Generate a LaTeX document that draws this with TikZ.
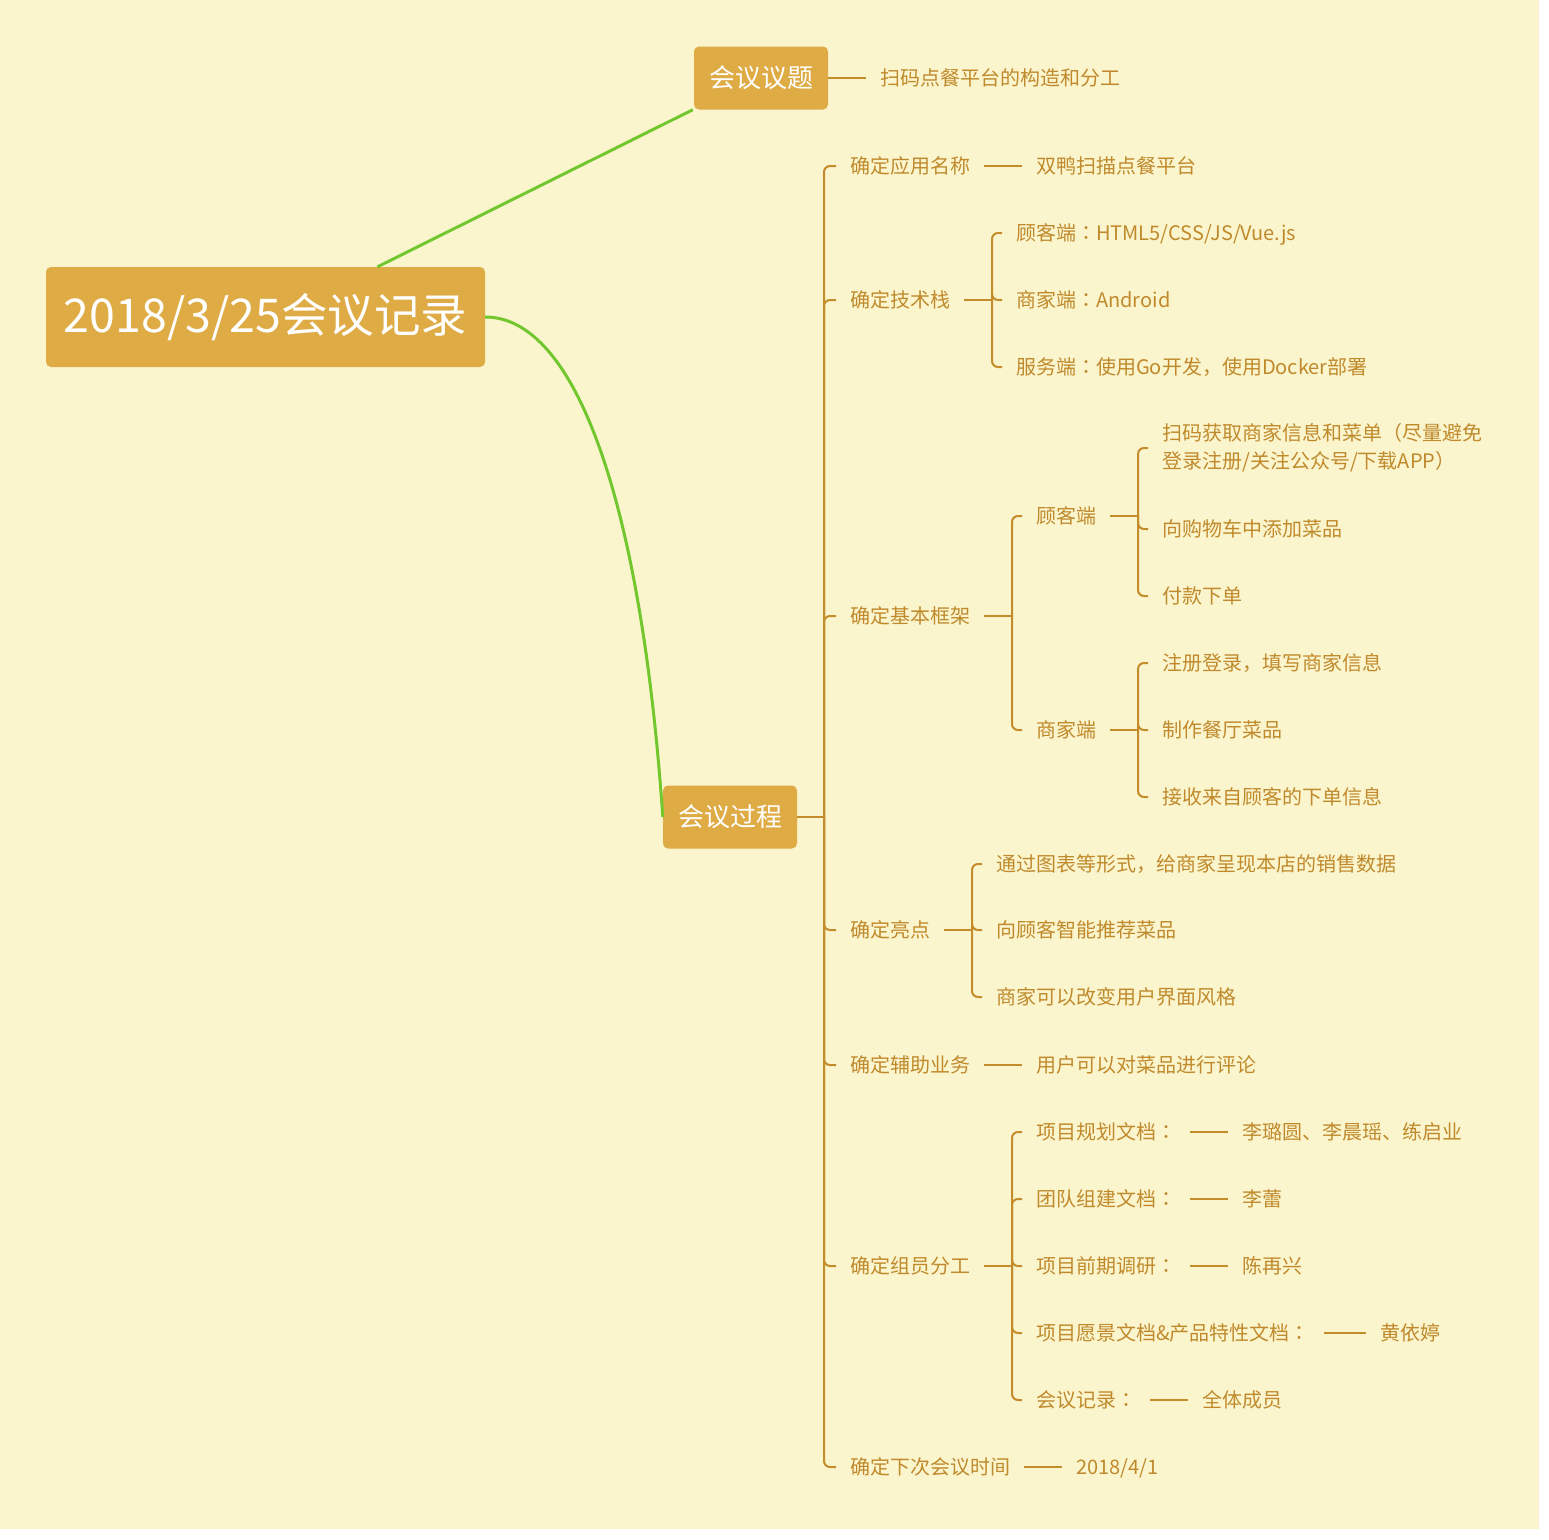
\documentclass[tikz,border=0pt]{standalone}
\usepackage{fontspec}
\setmainfont{Noto Sans CJK SC}
\newfontfamily\jpf{Noto Sans CJK JP}
\newcommand\cco{{\jpf ：}}
\definecolor{bgc}{HTML}{FBF5CE}
\definecolor{boxc}{HTML}{DFAB45}
\definecolor{txtc}{HTML}{C08A2C}
\definecolor{linec}{HTML}{C48C2A}
\definecolor{grn}{HTML}{72C62E}
\tikzset{
  lbl/.style={anchor=west, inner xsep=14pt, inner ysep=0pt, text=txtc,
    font=\fontsize{20pt}{28pt}\selectfont, text height=17.6pt, text depth=2.4pt},
  lbltwo/.style={anchor=west, inner xsep=14pt, inner ysep=0pt, text=txtc, align=left,
    font=\fontsize{20pt}{28pt}\selectfont},
  topbox/.style={fill=boxc, rounded corners=5pt, text=white, inner sep=0pt,
    font=\fontsize{26pt}{30pt}\selectfont, minimum width=134pt, minimum height=63pt},
  rootbox/.style={fill=boxc, rounded corners=5pt, text=white, inner sep=0pt,
    font=\fontsize{46.5pt}{50pt}\selectfont, minimum width=439pt, minimum height=100pt},
  br/.style={draw=linec, line width=2pt},
  brc/.style={draw=linec, line width=2pt, rounded corners=6pt},
  gl/.style={draw=grn, line width=3pt},
}
\begin{document}
\begin{tikzpicture}[x=1pt,y=-1pt]
\useasboundingbox (0,0) rectangle (1549,1539);
\fill[white] (0,0) rectangle (1549,1539);
\fill[bgc] (0,0) rectangle (1539,1529);

% main boxes
\node[rootbox] (root) at (265.5,317) {2018/3/25会议记录};
\node[topbox] (yt) at (761,78) {会议议题};
\node[topbox] (gc) at (730,817) {会议过程};

% green connectors
\draw[gl] ([xshift=112pt]root.north) -- ([xshift=-1pt]yt.south west);
\draw[gl] (root.east) .. controls +(90,0) and +(-22,-318) .. (gc.west);

% topic
\node[lbl] (ytc) at (866,78) {扫码点餐平台的构造和分工};
\draw[br] (yt.east) -- (ytc.west);

% level 1
\node[lbl] (t1) at (836,166) {确定应用名称};
\node[lbl] (t2) at (836,300) {确定技术栈};
\node[lbl] (t3) at (836,616) {确定基本框架};
\node[lbl] (t4) at (836,930) {确定亮点};
\node[lbl] (t5) at (836,1065) {确定辅助业务};
\node[lbl] (t6) at (836,1266) {确定组员分工};
\node[lbl] (t7) at (836,1467) {确定下次会议时间};
\coordinate (b0) at (824,817);
\draw[br] (gc.east) -- (b0);
\foreach \c in {t1,t2,t3,t4,t5,t6,t7} \draw[brc] (b0) |- (\c.west);

% t1
\node[lbl] (t1a) at (1022,166) {双鸭扫描点餐平台};
\draw[br] (t1.east) -- (t1a.west);

% t2
\node[lbl] (t2a) at (1002,233) {顾客端\cco HTML5/CSS/JS/Vue.js};
\node[lbl] (t2b) at (1002,300) {商家端\cco Android};
\node[lbl] (t2c) at (1002,367) {服务端\cco 使用Go开发，使用Docker部署};
\coordinate (b2) at (992,300);
\draw[br] (t2.east) -- (b2);
\foreach \c in {t2a,t2b,t2c} \draw[brc] (b2) |- (\c.west);

% t3
\node[lbl] (t3a) at (1022,516) {顾客端};
\node[lbl] (t3b) at (1022,730) {商家端};
\coordinate (b3) at (1012,616);
\draw[br] (t3.east) -- (b3);
\foreach \c in {t3a,t3b} \draw[brc] (b3) |- (\c.west);

\node[lbltwo] (t3a1) at (1148,448) {扫码获取商家信息和菜单（尽量避免\\登录注册/关注公众号/下载APP）};
\node[lbl] (t3a2) at (1148,529) {向购物车中添加菜品};
\node[lbl] (t3a3) at (1148,596) {付款下单};
\coordinate (b3a) at (1138,516);
\draw[br] (t3a.east) -- (b3a);
\foreach \c in {t3a1,t3a2,t3a3} \draw[brc] (b3a) |- (\c.west);

\node[lbl] (t3b1) at (1148,663) {注册登录，填写商家信息};
\node[lbl] (t3b2) at (1148,730) {制作餐厅菜品};
\node[lbl] (t3b3) at (1148,797) {接收来自顾客的下单信息};
\coordinate (b3b) at (1138,730);
\draw[br] (t3b.east) -- (b3b);
\foreach \c in {t3b1,t3b2,t3b3} \draw[brc] (b3b) |- (\c.west);

% t4
\node[lbl] (t4a) at (982,864) {通过图表等形式，给商家呈现本店的销售数据};
\node[lbl] (t4b) at (982,930) {向顾客智能推荐菜品};
\node[lbl] (t4c) at (982,997) {商家可以改变用户界面风格};
\coordinate (b4) at (972,930);
\draw[br] (t4.east) -- (b4);
\foreach \c in {t4a,t4b,t4c} \draw[brc] (b4) |- (\c.west);

% t5
\node[lbl] (t5a) at (1022,1065) {用户可以对菜品进行评论};
\draw[br] (t5.east) -- (t5a.west);

% t6
\node[lbl] (t6a) at (1022,1132) {项目规划文档\cco};
\node[lbl] (t6b) at (1022,1199) {团队组建文档\cco};
\node[lbl] (t6c) at (1022,1266) {项目前期调研\cco};
\node[lbl] (t6d) at (1022,1333) {项目愿景文档\&产品特性文档\cco};
\node[lbl] (t6e) at (1022,1400) {会议记录\cco};
\coordinate (b6) at (1012,1266);
\draw[br] (t6.east) -- (b6);
\foreach \c in {t6a,t6b,t6c,t6d,t6e} \draw[brc] (b6) |- (\c.west);

\node[lbl] (t6a1) at (1228,1132) {李璐圆、李晨瑶、练启业};
\node[lbl] (t6b1) at (1228,1199) {李蕾};
\node[lbl] (t6c1) at (1228,1266) {陈再兴};
\node[lbl] (t6d1) at (1366,1333) {黄依婷};
\node[lbl] (t6e1) at (1188,1400) {全体成员};
\foreach \a/\b in {t6a/t6a1,t6b/t6b1,t6c/t6c1,t6d/t6d1,t6e/t6e1} \draw[br] (\a.east) -- (\b.west);

% t7
\node[lbl] (t7a) at (1062,1467) {2018/4/1};
\draw[br] (t7.east) -- (t7a.west);
\end{tikzpicture}
\end{document}
